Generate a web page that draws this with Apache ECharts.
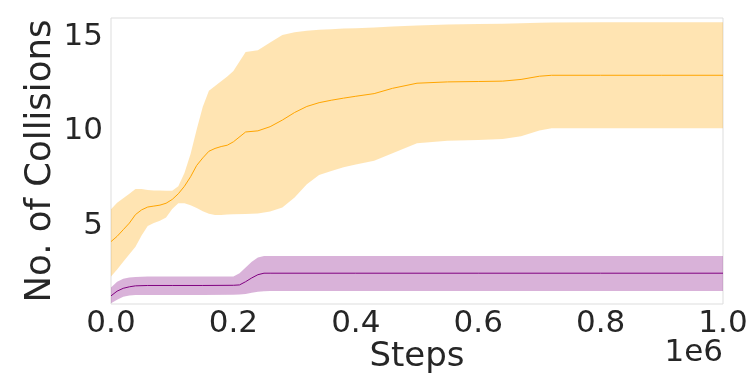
<!DOCTYPE html>
<html><head><meta charset="utf-8">
<script src="https://cdn.jsdelivr.net/npm/echarts@6/dist/echarts.min.js"></script>
<style>html,body{margin:0;padding:0;background:#fff}#c{width:754px;height:381px}</style>
</head><body><div id="c"></div>
<script>
// Orange run (steps in units of 1e6)
const orangeSteps = [0,0.01,0.02,0.03,0.04,0.05,0.06,0.07,0.08,0.09,0.10,0.11,0.12,0.13,0.14,0.15,0.16,0.17,0.18,0.19,0.20,0.22,0.24,0.26,0.28,0.30,0.32,0.34,0.36,0.38,0.40,0.43,0.46,0.50,0.55,0.60,0.64,0.67,0.70,0.72,0.80,0.90,1.0];
const orangeMean  = [4.17,4.45,4.8,5.15,5.6,5.85,6.0,6.05,6.1,6.2,6.4,6.7,7.1,7.6,8.2,8.6,8.95,9.1,9.2,9.27,9.45,9.97,10.03,10.25,10.6,11.0,11.32,11.52,11.65,11.76,11.86,12.0,12.28,12.55,12.62,12.64,12.66,12.75,12.92,12.97,12.97,12.97,12.97];
const orangeUpper = [5.88,6.22,6.47,6.7,6.95,6.95,6.9,6.88,6.87,6.86,6.86,7.1,7.8,8.8,10.1,11.3,12.15,12.4,12.65,12.9,13.2,14.2,14.3,14.7,15.1,15.25,15.33,15.38,15.41,15.44,15.46,15.5,15.55,15.6,15.65,15.68,15.7,15.72,15.75,15.76,15.77,15.77,15.77];
const orangeLower = [2.32,2.7,3.1,3.5,3.9,4.5,5.0,5.15,5.28,5.45,5.9,6.2,6.2,6.1,5.95,5.78,5.65,5.58,5.58,5.6,5.62,5.63,5.66,5.76,5.98,6.5,7.2,7.7,7.9,8.1,8.25,8.45,8.85,9.38,9.5,9.55,9.6,9.75,10.05,10.17,10.17,10.17,10.17];
// Purple run
const purpleSteps = [0,0.01,0.02,0.03,0.04,0.06,0.10,0.15,0.20,0.21,0.22,0.23,0.24,0.25,0.26,0.4,0.6,0.8,1.0];
const purpleMean  = [1.30,1.55,1.7,1.78,1.83,1.85,1.85,1.85,1.86,1.88,2.05,2.25,2.42,2.5,2.5,2.5,2.5,2.5,2.5];
const purpleUpper = [1.74,2.05,2.2,2.27,2.3,2.32,2.32,2.32,2.33,2.5,2.8,3.1,3.33,3.41,3.41,3.41,3.41,3.41,3.41];
const purpleLower = [0.91,1.1,1.25,1.32,1.35,1.35,1.35,1.35,1.36,1.37,1.4,1.47,1.52,1.55,1.56,1.56,1.56,1.56,1.56];
const xTicks = [0,0.2,0.4,0.6,0.8,1.0];
const yTicks = [5,10,15];
const xLabel = 'Steps';
const yLabel = 'No. of Collisions';
const xScaleText = '1e6';

const SCALE = 1e6;
const pts = (xs, ys) => xs.map((x,i)=>[x*SCALE, ys[i]]);

function band(name, xs, lo, hi, fill){
  return {
    type:'custom', name:name+'_band', silent:true, z:1, clip:true,
    data:[[0, 0]],
    renderItem:function(params, api){
      const top = xs.map((x,i)=>api.coord([x*SCALE, hi[i]]));
      const bot = xs.map((x,i)=>api.coord([x*SCALE, lo[i]])).reverse();
      return {type:'polygon', shape:{points:top.concat(bot)}, style:{fill:fill, stroke:null}};
    }
  };
}

const FONT = 'DejaVu Sans';
const TXT = '#262626';
const chart = echarts.init(document.getElementById('c'), null, {renderer:'canvas'});
chart.setOption({
  animation:false,
  backgroundColor:'#fff',
  grid:{left:111, top:18, width:612, height:286, show:true, borderColor:'#dddddd', borderWidth:1, backgroundColor:'transparent'},
  xAxis:{type:'value', min:0, max:SCALE, interval:0.2*SCALE,
    axisLine:{show:false}, axisTick:{show:false}, splitLine:{show:false},
    axisLabel:{customValues:xTicks.map(v=>v*SCALE), formatter:v=>(v/SCALE).toFixed(1), fontFamily:FONT, fontSize:31, color:TXT, margin:4},
    name:xLabel, nameLocation:'middle', nameGap:36, nameMoveOverlap:false, nameTextStyle:{fontFamily:FONT, fontSize:34, color:TXT}},
  yAxis:{type:'value', min:0.87, max:16.0,
    axisLine:{show:false}, axisTick:{show:false}, splitLine:{show:false},
    axisLabel:{customValues:yTicks, fontFamily:FONT, fontSize:31, color:TXT, margin:8},
    name:yLabel, nameLocation:'middle', nameGap:52, nameMoveOverlap:false, nameRotate:90, nameTextStyle:{fontFamily:FONT, fontSize:35.5, color:TXT}},
  graphic:[{type:'text', right:31, top:337, style:{text:xScaleText, font:'31px "DejaVu Sans"', fill:TXT}}],
  series:[
    band('orange', orangeSteps, orangeLower, orangeUpper, 'rgba(255,165,0,0.3)'),
    band('purple', purpleSteps, purpleLower, purpleUpper, 'rgba(128,0,128,0.3)'),
    {type:'line', name:'orange', data:pts(orangeSteps,orangeMean), symbol:'none', lineStyle:{color:'#FFA500', width:1}, z:3},
    {type:'line', name:'purple', data:pts(purpleSteps,purpleMean), symbol:'none', lineStyle:{color:'#800080', width:1}, z:3}
  ]
});
</script></body></html>
